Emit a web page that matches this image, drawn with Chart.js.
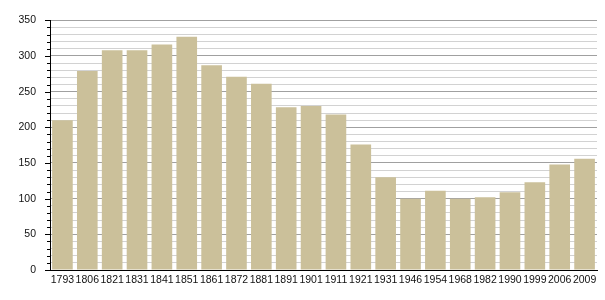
<!DOCTYPE html>
<html>
<head>
<meta charset="utf-8">
<script src="https://cdn.jsdelivr.net/npm/chart.js@4"></script>
<style>
html,body{margin:0;padding:0;background:#fff;}
#wrap{width:605px;height:300px;}
</style>
</head>
<body>
<div id="wrap"><canvas id="c" width="605" height="300"></canvas></div>
<script>
const years = ["1793","1806","1821","1831","1841","1851","1861","1872","1881","1891","1901","1911","1921","1931","1946","1954","1968","1982","1990","1999","2006","2009"];
const population = [210,279,308,308,316,327,287,271,261,228,230,218,176,130,100,111,100,102,109,123,148,156];
const yMin = 0;
const yMax = 350;
const yMinorStep = 10;
const yMajorStep = 50;

const tickMarks = {
  id: 'tickMarks',
  afterDraw(chart) {
    const s = chart.scales.y;
    const ctx = chart.ctx;
    ctx.save();
    ctx.strokeStyle = '#000';
    ctx.lineWidth = 1;
    s.ticks.forEach(t => {
      const y = Math.round(s.getPixelForValue(t.value)) + 0.5;
      const len = (t.value % yMajorStep === 0) ? 5 : 3;
      ctx.beginPath();
      ctx.moveTo(s.right - len, y);
      ctx.lineTo(s.right, y);
      ctx.stroke();
    });
    ctx.restore();
  }
};

new Chart(document.getElementById('c'), {
  type: 'bar',
  data: {
    labels: years,
    datasets: [{
      data: population,
      backgroundColor: '#cbc09a',
      borderWidth: 0,
      categoryPercentage: 1.0,
      barPercentage: 0.83
    }]
  },
  options: {
    responsive: false,
    animation: false,
    devicePixelRatio: 1,
    layout: { padding: { top: 20, right: 8, bottom: 0, left: 0 } },
    plugins: { legend: { display: false }, tooltip: { enabled: false } },
    scales: {
      x: {
        grid: { display: false, drawTicks: false },
        border: { display: true, color: '#000', width: 1 },
        ticks: {
          autoSkip: false, maxRotation: 0, minRotation: 0, padding: 4,
          color: '#111', font: { family: 'Liberation Sans, Arial, sans-serif', size: 10.5 }
        },
        afterFit(scale) { scale.height = 30; }
      },
      y: {
        min: yMin, max: yMax,
        grid: {
          drawTicks: false,
          color: ctx => (ctx.tick && ctx.tick.value % yMajorStep === 0) ? '#a0a0a0' : '#d2d2d2',
          lineWidth: 1
        },
        border: { display: true, color: '#000', width: 1 },
        ticks: {
          stepSize: yMinorStep, autoSkip: false, padding: 14,
          color: '#111', font: { family: 'Liberation Sans, Arial, sans-serif', size: 10.5 },
          callback: v => (v % yMajorStep === 0) ? String(v) : ''
        },
        afterFit(scale) { scale.width = 50; }
      }
    }
  },
  plugins: [tickMarks]
});
</script>
</body>
</html>
